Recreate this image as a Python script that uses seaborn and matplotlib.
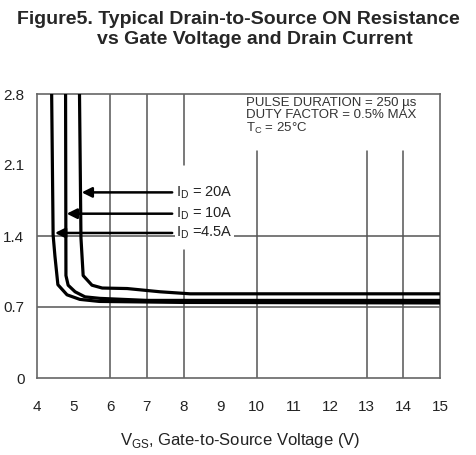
import numpy as np
import pandas as pd
import matplotlib
matplotlib.use("Agg")
import matplotlib.pyplot as plt
import seaborn as sns

# ---- data ----
x_45 = [4.40, 4.44, 4.49, 4.57, 4.82, 5.17, 5.70, 8.0, 15.0]
r_45 = [2.80, 1.41, 1.20, 0.92, 0.82, 0.775, 0.755, 0.745, 0.74]

x_10 = [4.78, 4.79, 4.85, 5.04, 5.31, 5.72, 7.0, 15.0]
r_10 = [2.80, 1.01, 0.915, 0.85, 0.80, 0.785, 0.765, 0.765]

x_20 = [5.16, 5.20, 5.26, 5.50, 5.78, 6.46, 7.36, 8.18, 15.0]
r_20 = [2.80, 1.38, 1.01, 0.915, 0.887, 0.882, 0.85, 0.83, 0.83]

series_labels = ["I$_\\mathrm{D}$ = 20A", "I$_\\mathrm{D}$ = 10A", "I$_\\mathrm{D}$ =4.5A"]
label_y = [1.83, 1.62, 1.43]
arrow_x = [5.22, 4.81, 4.49]

x_ticks = [4, 5, 6, 7, 8, 9, 10, 11, 12, 13, 14, 15]
y_ticks = [0, 0.7, 1.4, 2.1, 2.8]
y_tick_labels = ["0", "0.7", "1.4", "2.1", "2.8"]

df = pd.concat([
    pd.DataFrame({"vgs": x_20, "r": r_20, "id": "20A"}),
    pd.DataFrame({"vgs": x_10, "r": r_10, "id": "10A"}),
    pd.DataFrame({"vgs": x_45, "r": r_45, "id": "4.5A"}),
], ignore_index=True)

sns.set_style("white")
plt.rcParams["font.family"] = ["Liberation Sans", "DejaVu Sans"]
plt.rcParams["mathtext.fontset"] = "custom"
plt.rcParams["mathtext.rm"] = "Liberation Sans"

fig = plt.figure(figsize=(4.76, 4.55), dpi=100)
ax = fig.add_axes([37/476, 77/455, 403/476, 284/455])

grid_c = "#555555"
# horizontal gridlines
for yv in [0.7, 1.4]:
    ax.axhline(yv, color=grid_c, lw=1.1, zorder=1)
# vertical gridlines (broken as in the scan)
for xv in [6, 7]:
    ax.axvline(xv, color=grid_c, lw=1.1, zorder=1)
ax.axvline(8, 0, 0.45, color=grid_c, lw=1.1, zorder=1)
ax.axvline(8, 0.75, 1, color=grid_c, lw=1.1, zorder=1)
for xv in [10, 13, 14]:
    ax.axvline(xv, 0, 0.80, color=grid_c, lw=1.1, zorder=1)

sns.lineplot(data=df, x="vgs", y="r", hue="id", palette=["black"] * 3,
             estimator=None, sort=False, legend=False, lw=2.3, ax=ax, zorder=3)

ax.set_xlim(4, 15)
ax.set_ylim(0, 2.8)
ax.set_xticks(x_ticks)
ax.set_xticklabels([str(t) for t in x_ticks])
ax.set_yticks(y_ticks)
ax.set_yticklabels(y_tick_labels)
ax.tick_params(axis="x", length=0, pad=16, labelsize=11, colors="#222222")
ax.tick_params(axis="y", length=0, pad=9, labelsize=11, colors="#222222")
for s in ax.spines.values():
    s.set_color("#666666")
    s.set_linewidth(1.2)
ax.set_xlabel("")
ax.set_ylabel("")
fig.text(240/476, 1 - 441/455, "V$_\\mathrm{GS}$, Gate-to-Source Voltage (V)", fontsize=12,
         ha="center", va="center", color="#222222")

# arrow labels
for lab, yv, xv in zip(series_labels, label_y, arrow_x):
    ax.annotate("", xy=(xv, yv), xytext=(7.69, yv),
                arrowprops=dict(arrowstyle="-|>", color="black", lw=1.8,
                                mutation_scale=15, shrinkA=0, shrinkB=0), zorder=4)
    ax.text(7.8, yv, lab, fontsize=10.5, va="center", ha="left", color="#222222",
            bbox=dict(facecolor="white", edgecolor="none", pad=0.5), zorder=5)

# conditions text
ax.text(0.518, 0.99, "PULSE DURATION = 250 \u00b5s\nDUTY FACTOR = 0.5% MAX\nT$_\\mathrm{C}$ = 25\u00b0C",
        transform=ax.transAxes, fontsize=9.5, va="top", ha="left", color="#333333",
        linespacing=1.0)

# title
fig.text(17/476, 1 - 19/455, "Figure5. Typical Drain-to-Source ON Resistance",
         fontsize=14, fontweight="bold", va="center", ha="left")
fig.text(97/476, 1 - 40/455, "vs Gate Voltage and Drain Current",
         fontsize=14, fontweight="bold", va="center", ha="left")

fig.savefig("out.png", dpi=100)
